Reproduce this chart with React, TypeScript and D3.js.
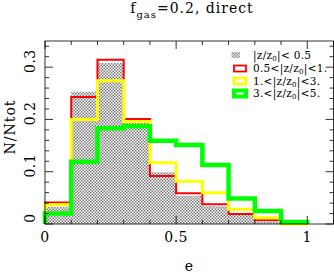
import React from "react";
import * as d3 from "d3";

const binEdges = [0, 0.1, 0.2, 0.3, 0.4, 0.5, 0.6, 0.7, 0.8, 0.9, 1.0];
const grayVals = [0.033, 0.253, 0.308, 0.196, 0.099, 0.054, 0.034, 0.017, 0.004, 0.0];
const redVals = [0.041, 0.243, 0.314, 0.201, 0.092, 0.059, 0.038, 0.019, 0.007, 0.0];
const yellowVals = [0.037, 0.2, 0.274, 0.196, 0.117, 0.082, 0.06, 0.028, 0.012, 0.0];
const greenVals = [0.02, 0.119, 0.183, 0.187, 0.159, 0.151, 0.113, 0.049, 0.025, 0.004];
const legendLabels = ["0.5<|z/z", "1.<|z/z", "3.<|z/z"];
const legendTails = ["|<1.", "|<3.", "|<5."];
const xTickLabels = ["0", "0.5", "1"];
const yTickLabels = ["0", "0.1", "0.2", "0.3"];

const W = 334, H = 273;
const L = 45, R = 333.5, T = 41, B = 224;
const FONT = "DejaVu Serif";

function stepPoints(vals: number[]): [number, number][] {
  const pts: [number, number][] = [[binEdges[0], 0]];
  vals.forEach((v, i) => {
    pts.push([binEdges[i], v]);
    pts.push([binEdges[i + 1], v]);
  });
  pts.push([binEdges[binEdges.length - 1], 0]);
  return pts;
}

export default function App() {
  const x = d3.scaleLinear().domain([0, 1.1]).range([L, R]);
  const y = d3.scaleLinear().domain([0, 0.35]).range([B, T]);
  const line = d3.line<[number, number]>().x(d => x(d[0])).y(d => y(d[1]));
  const area = d3.area<[number, number]>().x(d => x(d[0])).y0(y(0)).y1(d => y(d[1]));

  const xMinor = d3.range(0, 1.1001, 0.1);
  const yMinor = d3.range(0, 0.3501, 0.02);
  const xMajor = [0, 0.5, 1];
  const yMajor = [0, 0.1, 0.2, 0.3];

  const series = [
    { vals: redVals, color: "#ff0000", w: 2 },
    { vals: yellowVals, color: "#ffff00", w: 3 },
    { vals: greenVals, color: "#00ff00", w: 4.5 },
  ];

  return (
    <svg width={W} height={H} style={{ position: "absolute", left: 0, top: 0, background: "#fff" }}>
      <defs>
        <pattern id="hatch" width="3" height="3" patternUnits="userSpaceOnUse">
          <rect width="3" height="3" fill="#fff" />
          <rect x="0" y="0" width="1.5" height="1.5" fill="#7a7a7a" />
          <rect x="1.5" y="1.5" width="1.5" height="1.5" fill="#7a7a7a" />
        </pattern>
      </defs>
      <rect width={W} height={H} fill="#fff" />
      <path d={area(stepPoints(grayVals)) || ""} fill="url(#hatch)" stroke="none" />
      {series.map((s, i) => (
        <path key={i} d={line(stepPoints(s.vals)) || ""} fill="none" stroke={s.color} strokeWidth={s.w} strokeLinejoin="miter" />
      ))}
      {/* frame */}
      <rect x={L} y={T} width={R - L} height={B - T} fill="none" stroke="#000" strokeWidth={0.8} />
      {xMinor.map((v, i) => {
        const major = xMajor.some(m => Math.abs(m - v) < 1e-6);
        const len = major ? 8 : 4;
        return (
          <g key={"x" + i}>
            <line x1={x(v)} x2={x(v)} y1={B} y2={B - len} stroke="#000" strokeWidth={0.8} />
            <line x1={x(v)} x2={x(v)} y1={T} y2={T + len} stroke="#000" strokeWidth={0.8} />
          </g>
        );
      })}
      {yMinor.map((v, i) => {
        const major = yMajor.some(m => Math.abs(m - v) < 1e-6);
        const len = major ? 8 : 4;
        return (
          <g key={"y" + i}>
            <line x1={L} x2={L + len} y1={y(v)} y2={y(v)} stroke="#000" strokeWidth={0.8} />
            <line x1={R} x2={R - len} y1={y(v)} y2={y(v)} stroke="#000" strokeWidth={0.8} />
          </g>
        );
      })}
      {xMajor.map((v, i) => (
        <text key={"xl" + i} x={x(v)} y={242} textAnchor="middle" fontFamily={FONT} fontSize={14} letterSpacing={0.5}>{xTickLabels[i]}</text>
      ))}
      {yMajor.map((v, i) => (
        <text key={"yl" + i} transform={`translate(35,${y(v) - 6}) rotate(-90)`} textAnchor="middle" fontFamily={FONT} fontSize={14} letterSpacing={0.5}>{yTickLabels[i]}</text>
      ))}
      <text x={189} y={271} textAnchor="middle" fontFamily={FONT} fontSize={14}>e</text>
      <text transform={`translate(15,127) rotate(-90)`} textAnchor="middle" fontFamily={FONT} fontSize={14} letterSpacing={1}>N/Ntot</text>
      <text x={192} y={13} textAnchor="middle" fontFamily={FONT} fontSize={14} letterSpacing={1}>
        f<tspan fontSize={10} dy={5}>gas</tspan><tspan dy={-5}>=0.2,  direct</tspan>
      </text>
      {/* legend */}
      <rect x={231.5} y={52} width={8.5} height={6} fill="url(#hatch)" />
      <text x={253} y={58.5} fontFamily={FONT} fontSize={10.5} letterSpacing={0.3}>
        |z/z<tspan fontSize={7} dy={2}>0</tspan><tspan dy={-2}>|&lt; 0.5</tspan>
      </text>
      {series.map((s, i) => {
        const cy = 68.5 + i * 12.5;
        return (
          <g key={"lg" + i}>
            <rect x={234} y={cy - 3} width={12} height={6} fill="none" stroke={s.color} strokeWidth={s.w * 0.9} />
            <text x={253} y={cy + 3.5} fontFamily={FONT} fontSize={10.5} letterSpacing={0.3}>
              {legendLabels[i]}<tspan fontSize={7} dy={2}>0</tspan><tspan dy={-2}>{legendTails[i]}</tspan>
            </text>
          </g>
        );
      })}
    </svg>
  );
}
